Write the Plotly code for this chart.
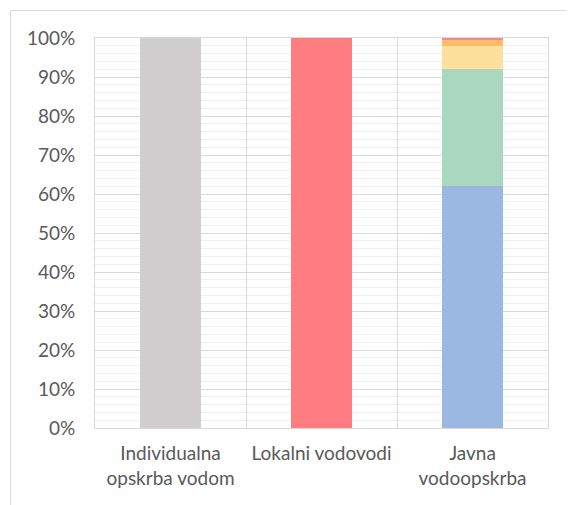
import plotly.graph_objects as go

categories = ["Individualna<br>opskrba vodom", "Lokalni vodovodi", "Javna<br>vodoopskrba"]

# stacked series values (fractions of 100%)
s_individual = [1.00, 0, 0]
s_lokalni = [0, 1.00, 0]
s_javna_1 = [0, 0, 0.62]
s_javna_2 = [0, 0, 0.30]
s_javna_3 = [0, 0, 0.06]
s_javna_4 = [0, 0, 0.016]
s_javna_5 = [0, 0, 0.004]

series = [
    (s_individual, "#D0CECE"),
    (s_lokalni, "#FF7C80"),
    (s_javna_1, "#9BB8E3"),
    (s_javna_2, "#A9D8BF"),
    (s_javna_3, "#FCE09C"),
    (s_javna_4, "#FDBD6A"),
    (s_javna_5, "#F48A8C"),
]

fig = go.Figure()
for vals, col in series:
    fig.add_trace(go.Bar(x=categories, y=vals, marker=dict(color=col, line=dict(width=0)),
                         width=0.4, showlegend=False, hoverinfo="skip"))

# page has an 8px body margin
W, H = 566, 497
ml, mt = 87, 30
mr = W - 540
mb = H - 420
pw, ph = W - ml - mr, H - mt - mb

def px(x):
    return (x - ml) / pw

def py(y):
    return 1 - (y - mt) / ph

fig.add_shape(type="path", xref="paper", yref="paper",
              path=f"M {px(2.5)} {py(520)} L {px(2.5)} {py(2.5)} L {px(600)} {py(2.5)}",
              line=dict(color="#D9D9D9", width=1), layer="below")

fig.update_layout(
    barmode="stack",
    width=W, height=H,
    margin=dict(l=ml, r=mr, t=mt, b=mb, autoexpand=False),
    paper_bgcolor="white", plot_bgcolor="white",
    font=dict(family="Lato, Open Sans, sans-serif", size=19, color="#595959"),
    bargap=0.6,
)
fig.update_yaxes(range=[0, 1], dtick=0.1, tickformat=".0%",
                 showgrid=True, gridcolor="#D9D9D9", gridwidth=1,
                 minor=dict(dtick=0.02, showgrid=True, gridcolor="#F0F0F0", gridwidth=1),
                 ticks="outside", ticklen=15, tickcolor="rgba(0,0,0,0)",
                 showline=True, linecolor="#D9D9D9", mirror=True, zeroline=False,
                 automargin=False,
                 tickfont=dict(size=19, color="#595959"))
fig.update_xaxes(type="category", tickson="boundaries", showgrid=True, gridcolor="#D9D9D9",
                 ticks="", ticklabelstandoff=8,
                 showline=True, linecolor="#D9D9D9", mirror=True,
                 tickangle=0, automargin=False,
                 tickfont=dict(size=19, color="#595959"))

fig.write_html("out.html", post_script="document.body.style.overflow='hidden';")
